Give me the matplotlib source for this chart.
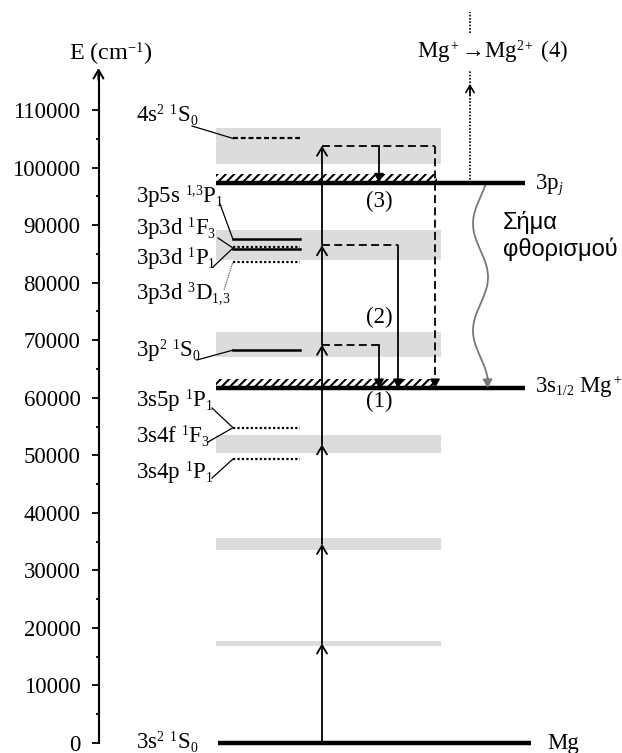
"""Mg / Mg+ energy level diagram with multiphoton excitation pathways."""

import numpy as np
import matplotlib

matplotlib.use("Agg")
import matplotlib.pyplot as plt
import matplotlib._mathtext as mathtext_core
from matplotlib.patches import Rectangle

plt.rcParams["font.family"] = ["Liberation Serif", "DejaVu Serif"]
plt.rcParams["mathtext.fontset"] = "custom"
plt.rcParams["mathtext.rm"] = "Liberation Serif"
plt.rcParams["mathtext.it"] = "Liberation Serif:italic"
plt.rcParams["mathtext.bf"] = "Liberation Serif:bold"
plt.rcParams["hatch.linewidth"] = 1.5
# smaller super/subscripts, closer to the original typesetting
mathtext_core.SHRINK_FACTOR = 0.6

# --- data (cm^-1) ---
photon_energy = 17300
photon_orders = [1, 2, 3, 4, 5, 6]
band_widths = [1000, 2100, 3100, 4300, 5200, 6300]
ion_limit = 61671          # Mg -> Mg+ 3s1/2
ion_3p = 97400             # Mg+ 3p_j
hatch_height = 1500

level_names = ["3s4p 1P1", "3s5p/3s4f", "3p2 1S0", "3p3d 3D", "3p3d 1P1",
               "3p3d 1F3", "3p5s 1,3P1", "4s2 1S0"]
level_energies = [49350, 54790, 68275, 83630, 85800, 86250, 87520, 105060]
level_styles = ["dotted", "dotted", "solid", "dotted", "solid", "dotted",
                "solid", "dashed"]

label_texts = [r"4s$^2$ $^1$S$_0$", r"3p5s $^{1{,}3}$P$_1$",
               r"3p3d $^1$F$_3$", r"3p3d $^1$P$_1$",
               r"3p3d $^3$D$_{1{,}3}$", r"3p$^2$ $^1$S$_0$",
               r"3s5p $^1$P$_1$", r"3s4f $^1$F$_3$", r"3s4p $^1$P$_1$"]
# which level each label points to
label_targets = [105060, 87520, 86020, 86020, 83630, 68275, 54790, 54790, 49350]
label_dotted = [False, False, False, False, True, False, False, False, False]

# --- layout (pixel units on a 622 x 753 canvas) ---
PX = 10000 / 57.545          # cm^-1 per pixel


def ey(py):
    return (743 - py) * PX


label_base_px = [122, 203, 235, 265, 300, 357, 407, 443, 479]
leader_start = [(192, 126), (220, 204), (218, 238), (213, 267), (224, 290),
                (197, 360), (212, 408), (208, 442), (212, 478)]
FS = 16.5

fig = plt.figure(figsize=(6.22, 7.53), dpi=100)
ax = fig.add_axes([0, 0, 1, 1])
ax.set_xlim(0, 622)
ax.set_ylim(ey(753), ey(0))

# y axis
for side in ["top", "right", "bottom"]:
    ax.spines[side].set_visible(False)
ax.spines["left"].set_position(("data", 98.5))
ax.spines["left"].set_bounds(0, 116000)
ax.spines["left"].set_linewidth(1.5)
ax.set_xticks([])
ax.set_yticks(range(0, 110001, 10000))
ax.set_yticks(range(5000, 105001, 10000), minor=True)
ax.tick_params(axis="y", which="major", direction="out", length=5, width=1.3,
               pad=8, labelsize=16.5)
ax.tick_params(axis="y", which="minor", direction="out", length=2.5, width=1.3)
ax.annotate("", xy=(98.5, ey(68)), xytext=(98.5, ey(80)),
            arrowprops=dict(arrowstyle="->,head_length=0.6,head_width=0.35",
                            lw=1.5, color="k", shrinkA=0, shrinkB=0))
ax.text(111, ey(60), r"E (cm$^{-1}$)", fontsize=17.5, ha="center",
        va="baseline")

# photon bandwidth bands
ax.barh([n * photon_energy for n in photon_orders], 441 - 216, left=216,
        height=band_widths, color="#dcdcdc", zorder=0)

# hatched continua above ionisation limits
for e in [ion_limit, ion_3p]:
    ax.add_patch(Rectangle((216, e), 437 - 216, hatch_height, facecolor="none",
                           edgecolor="k", hatch="////", lw=0, zorder=1))

# main levels
ax.hlines(0, 218, 531, color="k", lw=3.2, zorder=3)
ax.hlines([ion_limit, ion_3p], 216, 525, color="k", lw=3.2, zorder=3)
ax.text(136, ey(749), r"3s$^2$ $^1$S$_0$", fontsize=FS, va="baseline")
ax.text(547, ey(749), "Mg", fontsize=FS, va="baseline")
ax.text(535, ey(393), r"3s$_{1/2}$ Mg$^+$", fontsize=FS, va="baseline")
ax.text(535, ey(190), r"3p$_j$", fontsize=FS, va="baseline")

# atomic levels
dash_map = {"solid": "-", "dotted": (0, (1, 1)), "dashed": (0, (2.2, 1.3))}
for e, st in zip(level_energies, level_styles):
    ax.plot([233, 300], [e, e], color="k", lw=1.6 if st != "solid" else 1.8,
            linestyle=dash_map[st], zorder=3)

for txt, yb, (x0, y0), tgt, dot in zip(label_texts, label_base_px,
                                       leader_start, label_targets,
                                       label_dotted):
    ax.text(136, ey(yb), txt, fontsize=FS, va="baseline")
    ax.plot([x0, 233], [ey(y0), tgt], color="#444444" if dot else "k",
            lw=0.7 if dot else 0.9,
            linestyle=(0, (1.5, 1)) if dot else "-")

# multiphoton excitation ladder
x_up = 322
for n in photon_orders:
    ax.annotate("", xy=(x_up, n * photon_energy),
                xytext=(x_up, (n - 1) * photon_energy),
                arrowprops=dict(arrowstyle="->,head_length=0.6,head_width=0.36",
                                lw=1.3, color="k", shrinkA=0, shrinkB=0),
                zorder=4)

dash = (0, (4.4, 2.4))
down_head = "-|>,head_length=0.5,head_width=0.28"


def down_arrow(x, y0, y1):
    ax.annotate("", xy=(x, y1), xytext=(x, y0),
                arrowprops=dict(arrowstyle=down_head, lw=1.3, color="k",
                                shrinkA=0, shrinkB=0), zorder=4)


# channel (1): 4 photons -> Mg+ 3s
ax.plot([x_up, 379], [4 * photon_energy] * 2, color="k", lw=1.3,
        linestyle=dash)
down_arrow(379, 4 * photon_energy, ion_limit)
# channel (2): 5 photons
ax.plot([x_up, 398], [5 * photon_energy] * 2, color="k", lw=1.3,
        linestyle=dash)
down_arrow(398, 5 * photon_energy, ion_limit)
# channel (3): 6 photons -> Mg+ 3p and -> Mg+ 3s
ax.plot([x_up, 435], [6 * photon_energy] * 2, color="k", lw=1.3,
        linestyle=dash)
down_arrow(379, 6 * photon_energy, ion_3p)
ax.plot([435, 435], [6 * photon_energy, ion_limit + 900], color="k", lw=1.3,
        linestyle=dash)
down_arrow(435, ion_limit + 1200, ion_limit)

ax.text(379, ey(401), "(1)", fontsize=FS, ha="center", va="center")
ax.text(379, ey(317), "(2)", fontsize=FS, ha="center", va="center")
ax.text(379, ey(201), "(3)", fontsize=FS, ha="center", va="center")

# channel (4): Mg+ -> Mg2+
ax.plot([470, 470], [ion_3p, ey(70)], color="k", lw=1.2, linestyle=(0, (1, 1)))
ax.annotate("", xy=(470, ey(84)), xytext=(470, ey(95)),
            arrowprops=dict(arrowstyle="->,head_length=0.5,head_width=0.3",
                            lw=1.2, color="k", shrinkA=0, shrinkB=0))
ax.plot([470, 470], [ey(33), ey(12)], color="k", lw=1.2, linestyle=(0, (1, 1)))
ax.text(493, ey(58), r"Mg$^+$→Mg$^{2+}$ (4)", fontsize=FS, ha="center",
        va="baseline")

# fluorescence (wavy)
t = np.linspace(0, 1, 200)
wy = ion_3p + (ion_limit - ion_3p) * t
wx = 480.5 + 7.5 * np.sin(2 * np.pi * (t - 0.2) / 0.52 - np.pi / 2)
stop = 190
ax.plot(wx[:stop], wy[:stop], color="#777777", lw=1.3)
ax.annotate("", xy=(wx[-1], ion_limit), xytext=(wx[stop - 1], wy[stop - 1]),
            arrowprops=dict(arrowstyle="-|>,head_length=0.5,head_width=0.28",
                            lw=1.3, color="#777777", shrinkA=0, shrinkB=0))
ax.text(503, ey(236), "Σήμα\nφθορισμού", fontsize=17, ha="left",
        va="center", family=["Liberation Sans", "DejaVu Sans"],
        linespacing=1.15)

fig.savefig("out.png", dpi=100)
